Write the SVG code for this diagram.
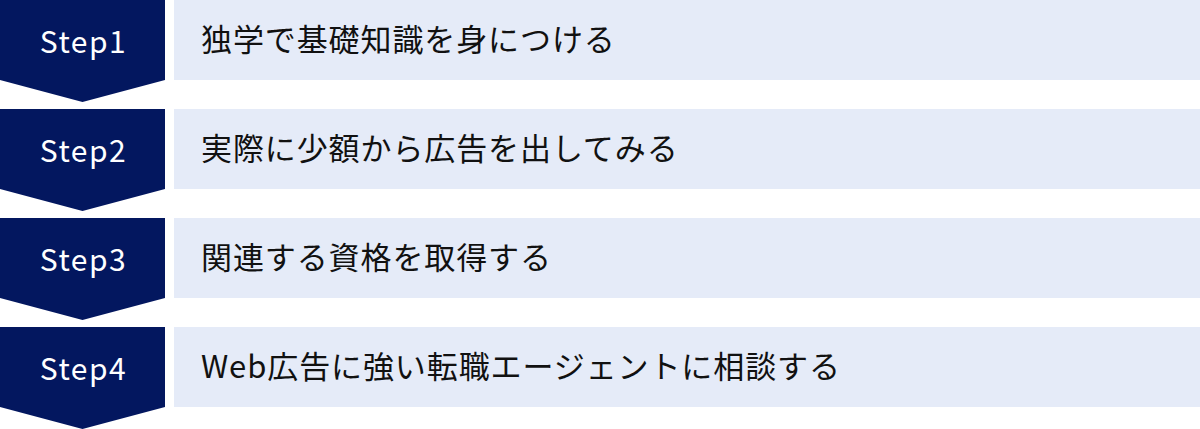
<svg xmlns="http://www.w3.org/2000/svg" width="1200" height="429" viewBox="0 0 1200 429">
<style>
.chev{fill:#03175f}
.box{fill:#e5ebf8}
.step{font-family:"Noto Sans CJK JP","Noto Sans",sans-serif;font-size:30px;fill:#ffffff;text-anchor:middle;letter-spacing:1.5px}
.lbl{font-family:"Noto Sans CJK JP","Noto Sans",sans-serif;font-size:31px;fill:#111111;letter-spacing:0.9px}
</style>
<rect width="1200" height="429" fill="#ffffff"/>
<g id="step1">
<polygon class="chev" points="0,0 165,0 165,80 82.5,102 0,80"/>
<rect class="box" x="174" y="0" width="1026" height="80"/>
<text class="step" x="83.5" y="52.5">Step1</text>
<text class="lbl" x="201" y="51">独学で基礎知識を身につける</text>
</g>
<g id="step2">
<polygon class="chev" points="0,109 165,109 165,189 82.5,211 0,189"/>
<rect class="box" x="174" y="109" width="1026" height="80"/>
<text class="step" x="83.5" y="161.5">Step2</text>
<text class="lbl" x="201" y="160">実際に少額から広告を出してみる</text>
</g>
<g id="step3">
<polygon class="chev" points="0,218 165,218 165,298 82.5,320 0,298"/>
<rect class="box" x="174" y="218" width="1026" height="80"/>
<text class="step" x="83.5" y="270.5">Step3</text>
<text class="lbl" x="201" y="269">関連する資格を取得する</text>
</g>
<g id="step4">
<polygon class="chev" points="0,327 165,327 165,407 82.5,429 0,407"/>
<rect class="box" x="174" y="327" width="1026" height="80"/>
<text class="step" x="83.5" y="379.5">Step4</text>
<text class="lbl" x="201" y="378">Web広告に強い転職エージェントに相談する</text>
</g>
<g id="connectors"></g>
</svg>
